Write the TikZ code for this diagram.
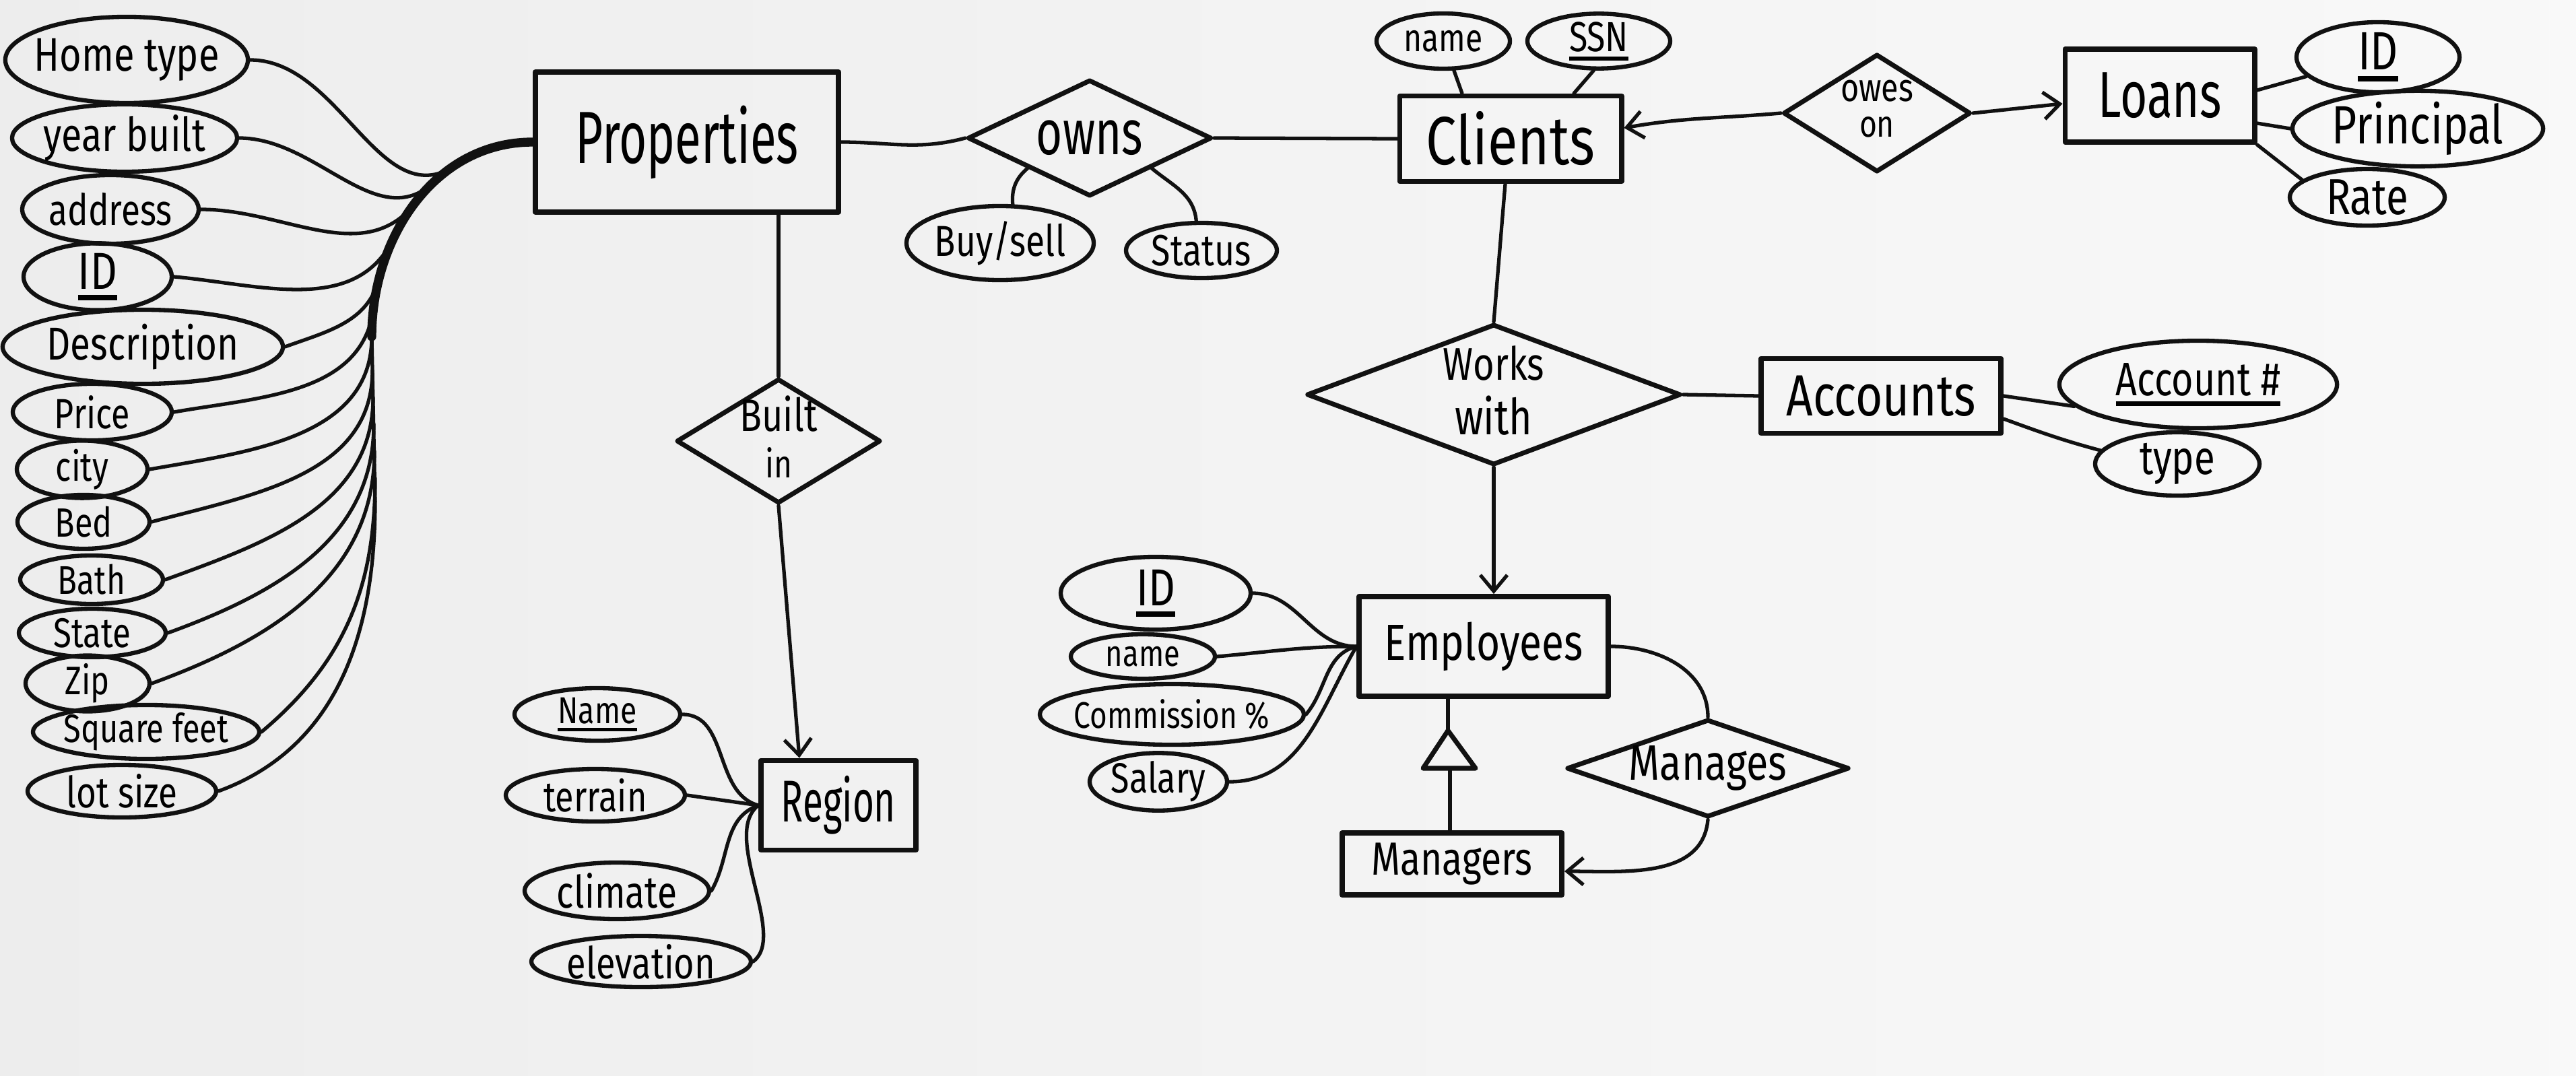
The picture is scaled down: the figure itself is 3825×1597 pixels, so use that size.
\documentclass[tikz,border=0pt]{standalone}
\usepackage{fontspec}
\setmainfont{Fira Sans}
\usepackage{graphicx}
\usetikzlibrary{shapes.geometric,arrows.meta}
\definecolor{ink}{HTML}{111111}
\newcommand\tx[3][1.25]{\makebox[0pt]{\resizebox{#2cm}{!}{\scalebox{1}[#1]{#3}}}}
\newcommand\twol[4]{\makebox[0pt]{\begin{tabular}{@{}c@{}}\resizebox{#1cm}{!}{\scalebox{1}[1.25]{#2}}\\[3pt]\resizebox{#3cm}{!}{\scalebox{1}[1.25]{#4}}\end{tabular}}}
\newcommand\ulx[1]{\setbox0\hbox{#1}\rlap{\copy0}\raisebox{-0.22em}{\rule{\wd0}{0.1em}}}
\begin{document}
\begin{tikzpicture}[x=0.01cm,y=0.01cm,line cap=round,line join=round,
 ent/.style={draw=ink,line width=2.2pt,rectangle,inner sep=0pt},
 att/.style={draw=ink,line width=1.8pt,ellipse,inner sep=0pt},
 rel/.style={draw=ink,line width=2pt,diamond,inner sep=0pt},
 con/.style={draw=ink,line width=1.5pt},
 trunk/.style={draw=ink,line width=3.8pt},
 arr/.style={con,-{Straight Barb[length=0.24cm,width=0.4cm]}}]
\shade[left color=gray!14,right color=gray!5] (0,0) rectangle (3825,-1597);
\useasboundingbox (0,0) rectangle (3825,-1597);

% entities
\node[ent,minimum width=4.50cm,minimum height=2.08cm] (pr) at (1020,-211) {\tx[1.55]{3.31}{Properties}};
\node[ent,minimum width=2.30cm,minimum height=1.33cm] (rg) at (1245,-1196) {\tx[1.6]{1.70}{Region}};
\node[ent,minimum width=3.29cm,minimum height=1.27cm] (cl) at (2243,-206) {\tx{2.50}{Clients}};
\node[ent,minimum width=2.81cm,minimum height=1.38cm] (lo) at (3207,-142) {\tx[1.4]{1.83}{Loans}};
\node[ent,minimum width=3.56cm,minimum height=1.11cm] (ac) at (2793,-588) {\tx{2.81}{Accounts}};
\node[ent,minimum width=3.70cm,minimum height=1.48cm] (emp) at (2203,-960) {\tx{2.95}{Employees}};
\node[ent,minimum width=3.26cm,minimum height=0.92cm] (mr) at (2156,-1283) {\tx{2.39}{Managers}};

% relationships
\node[rel,minimum width=3.03cm,minimum height=1.85cm] (bi) at (1156,-655) {\twol{1.15}{Built}{0.40}{in}};
\node[rel,minimum width=3.62cm,minimum height=1.73cm] (ow) at (1618,-205) {\tx[1.4]{1.58}{owns}};
\node[rel,minimum width=2.78cm,minimum height=1.75cm] (oo) at (2787,-168) {\twol{1.08}{owes}{0.52}{on}};
\node[rel,minimum width=5.55cm,minimum height=2.09cm] (ww) at (2218,-586) {\twol{1.50}{Works}{1.15}{with}};
\node[rel,minimum width=4.19cm,minimum height=1.45cm] (mg) at (2536,-1141) {\tx{2.34}{Manages}};

% property attributes
\node[att,minimum width=3.60cm,minimum height=1.28cm] (a1) at (188,-89) {\tx{2.75}{Home type}};
\node[att,minimum width=3.34cm,minimum height=1.00cm] (a2) at (185,-205) {\tx{2.40}{year built}};
\node[att,minimum width=2.62cm,minimum height=1.02cm] (a3) at (164,-311) {\tx{1.83}{address}};
\node[att,minimum width=2.20cm,minimum height=0.94cm] (a4) at (145,-411) {\tx{0.58}{\ulx{ID}}};
\node[att,minimum width=4.16cm,minimum height=1.10cm] (a5) at (212,-515) {\tx{2.85}{Description}};
\node[att,minimum width=2.36cm,minimum height=0.84cm] (a6) at (137,-612) {\tx{1.12}{Price}};
\node[att,minimum width=1.94cm,minimum height=0.74cm] (a7) at (122,-697) {\tx{0.78}{city}};
\node[att,minimum width=1.96cm,minimum height=0.80cm] (a8) at (124,-775) {\tx{0.85}{Bed}};
\node[att,minimum width=2.12cm,minimum height=0.72cm] (a9) at (136,-861) {\tx{1.00}{Bath}};
\node[att,minimum width=2.18cm,minimum height=0.72cm] (a10) at (137,-940) {\tx{1.15}{State}};
\node[att,minimum width=1.84cm,minimum height=0.58cm] (a11) at (130,-1015) {\tx{0.66}{Zip}};
\node[att,minimum width=3.36cm,minimum height=0.76cm] (a12) at (217,-1087) {\tx{2.45}{Square feet}};
\node[att,minimum width=2.80cm,minimum height=0.78cm] (a13) at (181,-1175) {\tx{1.65}{lot size}};

% region attributes
\node[att,minimum width=2.46cm,minimum height=0.78cm] (rn) at (887,-1061) {\tx{1.17}{\ulx{Name}}};
\node[att,minimum width=2.66cm,minimum height=0.78cm] (rt) at (884,-1181) {\tx{1.53}{terrain}};
\node[att,minimum width=2.74cm,minimum height=0.84cm] (rc) at (916,-1323) {\tx{1.78}{climate}};
\node[att,minimum width=3.26cm,minimum height=0.76cm] (re) at (952,-1428) {\tx{2.20}{elevation}};

% owns attributes
\node[att,minimum width=2.78cm,minimum height=1.10cm] (bs) at (1485,-361) {\tx{1.94}{Buy/sell}};
\node[att,minimum width=2.24cm,minimum height=0.82cm] (st) at (1784,-372) {\tx{1.48}{Status}};

% client attributes
\node[att,minimum width=1.98cm,minimum height=0.82cm] (cn) at (2143,-61) {\tx{1.17}{name}};
\node[att,minimum width=2.12cm,minimum height=0.72cm] (cs) at (2374,-61) {\tx{0.88}{\ulx{SSN}}};

% loan attributes
\node[att,minimum width=2.42cm,minimum height=1.04cm] (li) at (3531,-85) {\tx{0.60}{\ulx{ID}}};
\node[att,minimum width=3.72cm,minimum height=1.06cm] (lp) at (3590,-191) {\tx{2.55}{Principal}};
\node[att,minimum width=2.30cm,minimum height=0.84cm] (lr) at (3515,-293) {\tx{1.22}{Rate}};

% account attributes
\node[att,minimum width=4.12cm,minimum height=1.30cm] (an) at (3264,-571) {\tx{2.44}{\ulx{Account \#}}};
\node[att,minimum width=2.44cm,minimum height=0.94cm] (at) at (3233,-689) {\tx{1.12}{type}};

% employee attributes
\node[att,minimum width=2.82cm,minimum height=1.08cm] (ei) at (1716,-881) {\tx{0.58}{\ulx{ID}}};
\node[att,minimum width=2.14cm,minimum height=0.66cm] (en) at (1697,-975) {\tx{1.10}{name}};
\node[att,minimum width=3.92cm,minimum height=0.90cm] (ec) at (1740,-1061) {\tx{2.90}{Commission \%}};
\node[att,minimum width=2.04cm,minimum height=0.72cm] (es) at (1720,-1161) {\tx{1.40}{Salary}};

% trunk of property attributes
\coordinate (tb) at (552,-500);
\coordinate (te) at (557,-745);
\draw[trunk] (pr.west) to[out=180,in=90] (tb);
\draw[con] (tb) -- (te);
\coordinate (j1) at (676,-246);
\coordinate (j2) at (645,-270);
\coordinate (j3) at (618,-300);
\coordinate (j4) at (585,-353);
\coordinate (j5) at (563,-413);
\coordinate (j6) at (555,-456);
\coordinate (j8) at (553,-550);
\coordinate (j9) at (554,-590);
\coordinate (j10) at (555,-630);
\coordinate (j11) at (556,-670);
\coordinate (j12) at (557,-710);
\draw[con] (a1.east) to[out=0,in=213] (j1);
\draw[con] (a2.east) to[out=0,in=223] (j2);
\draw[con] (a3.east) to[out=0,in=232] (j3);
\draw[con] (a4.east) to[out=-5,in=244] (j4);
\draw[con] (a5.east) to[out=20,in=256] (j5);
\draw[con] (a6.east) to[out=10,in=263] (j6);
\draw[con] (a7.east) to[out=10,in=270] (tb);
\draw[con] (a8.east) to[out=15,in=270] (j8);
\draw[con] (a9.east) to[out=20,in=270] (j9);
\draw[con] (a10.east) to[out=20,in=270] (j10);
\draw[con] (a11.east) to[out=20,in=270] (j11);
\draw[con] (a12.east) to[out=40,in=270] (j12);
\draw[con] (a13.east) to[out=20,in=270] (te);

% properties relations
\draw[con] (pr.east) to[out=0,in=195] (ow.west);
\draw[con] (ow.east) -- (cl.west);
\draw[con] (bs.72) to[out=95,in=220] (ow.south west);
\draw[con] (ow.south east) to[out=-40,in=95] (st.100);
\draw[con] (bi.north |- pr.south) -- (bi.north);
\draw[arr] (bi.south) -- ([xshift=-0.58cm]rg.north);

% region attributes links
\draw[con] (rn.east) to[out=0,in=165] (rg.west);
\draw[con] (rt.east) -- (rg.west);
\draw[con] (rc.east) to[out=60,in=200] (rg.west);
\draw[con] (re.east) .. controls (1170,-1390) and (1070,-1240) .. (rg.west);

% clients
\draw[con] (cn.-70) -- ([xshift=-0.72cm]cl.north);
\draw[con] (cs.-100) -- ([xshift=0.94cm]cl.north);
\draw[arr] (oo.west) to[out=185,in=10] ([yshift=0.16cm]cl.east);
\draw[arr] (oo.east) -- ([yshift=-0.12cm]lo.west);
\draw[con] ([yshift=0.08cm]lo.east) -- (li.195);
\draw[con] ([yshift=-0.41cm]lo.east) -- (lp.west);
\draw[con] (lo.south east) -- (lr.165);
\draw[con] ([xshift=-0.08cm]cl.south) -- (ww.north);

% accounts
\draw[con] (ww.east) -- (ac.west);
\draw[con] (ac.east) -- (an.190);
\draw[con] ([yshift=-0.34cm]ac.east) to[out=-20,in=165] (at.170);

% employees
\draw[arr] (ww.south) -- (ww.south |- emp.north);
\draw[con] (ei.east) to[out=0,in=180] (emp.west);
\draw[con] (en.east) to[out=5,in=180] (emp.west);
\draw[con] (ec.east) to[out=50,in=195] (emp.west);
\draw[con] (es.east) to[out=0,in=240] (emp.west);
\draw[con] (emp.east) to[out=0,in=90] (mg.north);
\draw[arr] (mg.south) to[out=-95,in=0] ([yshift=-0.11cm]mr.east);

% specialization triangle
\coordinate (tT) at (2150,-1085);
\coordinate (tL) at (2113,-1141);
\coordinate (tR) at (2191,-1141);
\coordinate (tB) at (2153,-1141);
\draw[draw=ink,line width=2pt] (tT) -- (tL) -- (tR) -- cycle;
\draw[con] (tT |- emp.south) -- (tT);
\draw[con] (tB) -- (tB |- mr.north);
\end{tikzpicture}
\end{document}
